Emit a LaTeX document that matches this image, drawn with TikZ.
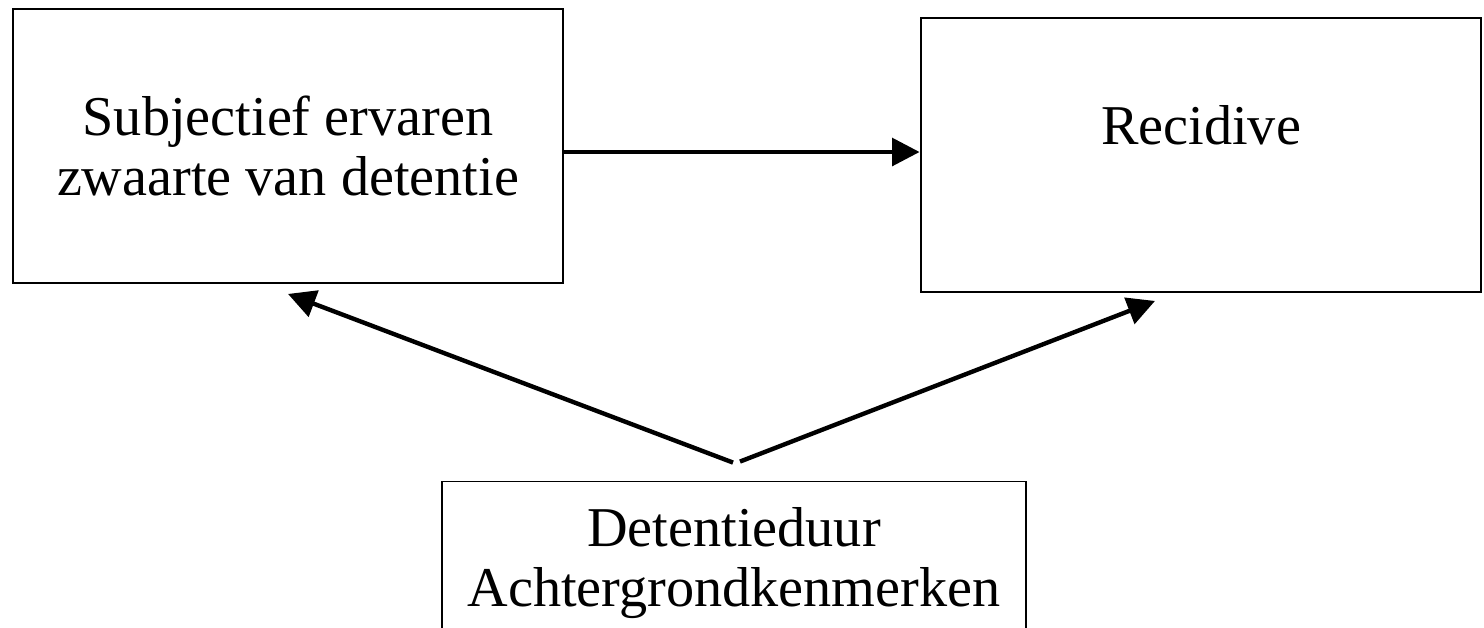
\documentclass[tikz,border=0pt]{standalone}
\usepackage{fontspec}
\setmainfont{Liberation Serif}
\usepackage{tikz}
\usetikzlibrary{
    positioning,
    arrows.meta
}

\begin{document}
\begin{tikzpicture}[x=0.02cm, y=-0.02cm, >={Triangle[length=0.55cm, width=0.55cm]},
    box/.style={draw, line width=1.1pt, align=center, font=\fontsize{32}{34.5}\selectfont},
    conn/.style={->, line width=2.5pt}]
        \useasboundingbox (0,0) rectangle (1484,627);

        \node[box, minimum width=11cm, minimum height=5.48cm] (subj) at (288,146)
            {Subjectief ervaren\\zwaarte van detentie};
        \node[box, minimum width=11.22cm, minimum height=5.48cm] (recid) at (1201,155)
            {Recidive\\\mbox{}};
        \node[box, minimum width=11.68cm, minimum height=3.26cm] (achter) at (734,563)
            {Detentieduur\\Achtergrondkenmerken};

        \coordinate (splitL) at ([xshift=-0.02cm, yshift=0.36cm]achter.north);
        \coordinate (splitR) at ([xshift=0.12cm, yshift=0.38cm]achter.north);
        \coordinate (tipL) at ([yshift=-0.2cm]subj.south);
        \coordinate (tipR) at ([xshift=-0.92cm, yshift=-0.16cm]recid.south);

        \draw[conn] ([yshift=0.06cm]subj.east |- recid.west) -- ([yshift=0.06cm]recid.west);
        \draw[conn] (splitL) -- (tipL);
        \draw[conn] (splitR) -- (tipR);
    \end{tikzpicture}
\end{document}
